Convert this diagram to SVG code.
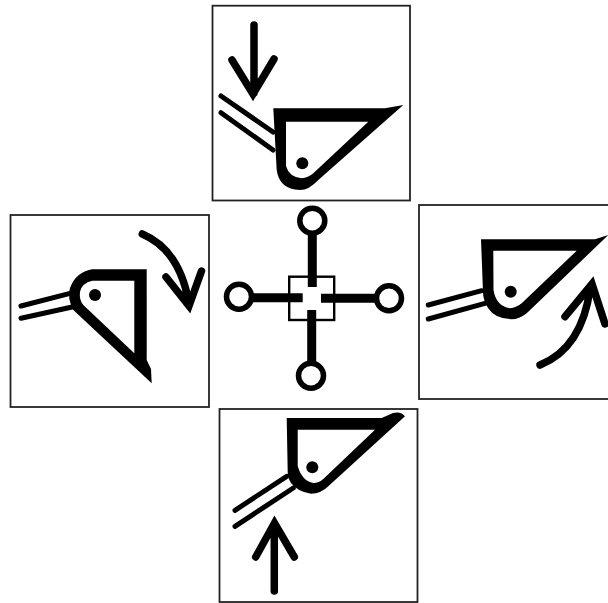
<svg xmlns="http://www.w3.org/2000/svg" width="608" height="603" viewBox="0 0 608 603">
<defs><filter id="soft" x="0" y="0" width="100%" height="100%" filterUnits="userSpaceOnUse"><feGaussianBlur stdDeviation="0.5"/></filter></defs>
<style>
.panel{fill:#fff;stroke:#222;stroke-width:1.8}
.body{fill:#000;fill-rule:evenodd}
.arm{fill:none;stroke:#000;stroke-width:5;stroke-linecap:round}
.arrow{fill:none;stroke:#000;stroke-width:7.5;stroke-linecap:round;stroke-linejoin:miter}
.bar{stroke:#000;stroke-width:9;fill:none}
.ring{fill:#fff;stroke:#000;stroke-width:5.5}
</style>
<rect width="608" height="603" fill="#fff"/>
<g filter="url(#soft)">
<g id="panel-top">
<rect class="panel" x="212.5" y="5.7" width="197.5" height="194.8"/>
<path class="arrow" d="M254,25V93M232,60L253,94L274,59"/>
<path class="arm" d="M221,96L273,132M221,112.7L273,150"/>
<path class="body" d="M273.3,108.3L385,108.3L403.3,105L318.3,180Q309,190 300,190Q279,189 276.7,170ZM286,121.7L286,166Q289,177 301.7,178.3Q308,178 313.3,173.3L368.3,121.7Z"/>
<circle cx="302.3" cy="163.3" r="6"/>
</g>
<g id="panel-left">
<rect class="panel" x="10.5" y="215" width="198.5" height="192"/>
<path class="arrow" d="M142.3,234Q180,250 189,304M166,277L189,306L201.5,271"/>
<path class="arm" d="M21,306L70,293.3M21,318.3L73.3,306.7"/>
<path class="body" d="M146.7,269.3L146.7,360L151,369L151.7,383.3L73.3,310Q67,298 70,288Q76,272 92,269.3ZM134.3,280.7L92.3,280.7Q82,283 80,291.7Q79,300 83.3,305L134.3,353.3Z"/>
<circle cx="95" cy="295" r="6"/>
</g>
<g id="panel-right">
<rect class="panel" x="419" y="205" width="195" height="194"/>
<path class="arrow" d="M540,365Q582,348 590,289M565,316.7L592,284L605,324"/>
<path class="arm" d="M428.3,305L481.7,290.7M428.3,319L485,303.3"/>
<path class="body" d="M481,239.3L595,239.3L608.3,235L526.7,313.3Q519,319.3 511.7,319.3Q495,319 488,308Q483,300 483,292ZM493.3,250.7L493.5,290Q496,306 510,308.3Q516,308 521.7,303.3L576.7,250.7Z"/>
<circle cx="510.7" cy="291.7" r="6"/>
</g>
<g id="panel-bottom">
<rect class="panel" x="219.5" y="409" width="198" height="193"/>
<path class="arrow" d="M274.3,591V524M255.7,557L274.5,523L294.3,557"/>
<path class="arm" d="M235,510.3L286.7,476.3M235,526.3L293.3,488"/>
<path class="body" d="M286.7,418L381.7,418L393,413Q401,411 405,416.3L328.3,486.3Q321,493.7 311,493.7Q298,492 291,483Q287.7,478 287.7,472ZM297.7,429.7L297.7,466Q302,481 313.3,483Q319,483 323.3,479L375,429.7Z"/>
<circle cx="312.3" cy="467.3" r="6"/>
</g>
<g id="connectors">
<path class="bar" d="M312.3,232V287M251,297.7H302.7M321,298.3H377M311.7,310V364"/>
</g>
<g id="hub"><rect x="289.2" y="276.7" width="45" height="43.3" fill="none" stroke="#000" stroke-width="2.4"/></g>
<g id="node-top"><circle class="ring" cx="312.3" cy="220.7" r="12.5"/></g>
<g id="node-left"><circle class="ring" cx="239" cy="296.7" r="12.5"/></g>
<g id="node-right"><circle class="ring" cx="389" cy="298.3" r="12.5"/></g>
<g id="node-bottom"><circle class="ring" cx="311" cy="375.7" r="12.5"/></g>
</g>
</svg>
